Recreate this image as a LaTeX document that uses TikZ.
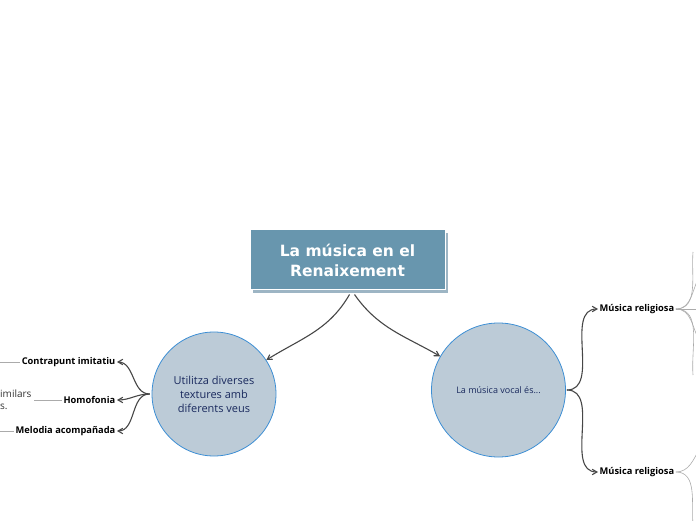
\documentclass[tikz,border=0pt]{standalone}
\usepackage{fontspec}
\setmainfont{Open Sans}
\newfontfamily\titlefont{DejaVu Sans}
\usetikzlibrary{arrows}

\definecolor{titlebg}{HTML}{6896AE}
\definecolor{titleshadow}{HTML}{9DB5C4}
\definecolor{bubblefill}{HTML}{BCCBD7}
\definecolor{bubbleline}{HTML}{3C8ED4}
\definecolor{bubbletext}{HTML}{1A2A5E}
\definecolor{linkcol}{HTML}{474747}
\definecolor{twig}{HTML}{ABABAB}

\tikzset{
  topic/.style={fill=titlebg, draw=white, line width=1pt, minimum width=195pt, minimum height=60pt,
    text=white, align=center, font=\titlefont\bfseries\fontsize{15.5}{20}\selectfont},
  bubble/.style={circle, fill=bubblefill, draw=bubbleline, line width=0.8pt, text=bubbletext,
    align=center, inner sep=0pt},
  leaf/.style={inner sep=1.5pt, font=\bfseries\fontsize{9.3}{11}\selectfont},
  link/.style={draw=linkcol, line width=1.1pt, ->, >=angle 60},
  twigline/.style={draw=twig, line width=0.6pt},
}

\begin{document}
\begin{tikzpicture}[x=1pt,y=1pt]
	\useasboundingbox (0,0) rectangle (696,520);
	\clip (0,0) rectangle (696,520);

	% main topic
	\fill [titleshadow] (253,227) rectangle (448,287);
	\node [topic] (title) at (347.5,260) {La música en el\\Renaixement};

	% the two bubbles
	\node [bubble, minimum size=124pt, font=\fontsize{11}{14}\selectfont] (lc) at (214,126)
		{Utilitza diverses\\textures amb\\ diferents veus};
	\node [bubble, minimum size=134pt, font=\fontsize{9}{10}\selectfont] (rc) at (498.5,130)
		{La música vocal és...};

	\draw [link] ([xshift=2pt,yshift=-4pt]title.south) to[out=-120,in=32] (lc.33);
	\draw [link] ([xshift=7pt,yshift=-4pt]title.south) to[out=-55,in=150] (rc.150);

	% left side
	\node [leaf, anchor=east] (cp) at (117,158) {Contrapunt imitatiu};
	\node [leaf, anchor=east] (ho) at (117,120) {Homofonia};
	\node [leaf, anchor=east] (ma) at (117,89) {Melodia acompañada};
	\node [anchor=west, align=left, inner sep=0pt, text=black!80, font=\fontsize{10}{12}\selectfont] (sim) at (0,120)
		{imilars\\s.};
	\coordinate (cpend) at (0,158);
	\coordinate (maend) at (0,89);

	\foreach \leafname in {cp,ho,ma}
		\draw [link] ([xshift=-2pt]lc.west) to[out=180,in=0] (\leafname.east);
	\draw [twigline] (cp.west) -- (cpend);
	\draw [twigline] (ho.west) -- ([xshift=2pt]sim.east |- ho.west);
	\draw [twigline] (ma.west) -- (maend);

	% right side
	\node [leaf, anchor=west] (mr1) at (598,211) {Música religiosa};
	\node [leaf, anchor=west] (mr2) at (598,48) {Música religiosa};

	\draw [link] ([xshift=1pt]rc.east) to[out=0,in=180] (mr1.west);
	\draw [link] ([xshift=1pt]rc.east) to[out=0,in=180] (mr2.west);

	\coordinate (f1) at (693,268);
	\coordinate (f2) at (700,245);
	\coordinate (f3) at (700,211);
	\coordinate (f4) at (700,178);
	\coordinate (f5) at (693,145);
	\coordinate (g1) at (700,72);
	\coordinate (g2) at (693,-5);

	\draw [twigline] (mr1.east) to[out=0,in=-95] (f1);
	\draw [twigline] (mr1.east) to[out=0,in=-120] (f2);
	\draw [twigline] (mr1.east) -- (f3);
	\draw [twigline] (mr1.east) to[out=0,in=120] (f4);
	\draw [twigline] (mr1.east) to[out=0,in=95] (f5);
	\draw [twigline] (mr2.east) to[out=0,in=-120] (g1);
	\draw [twigline] (mr2.east) to[out=0,in=95] (g2);
\end{tikzpicture}
\end{document}
